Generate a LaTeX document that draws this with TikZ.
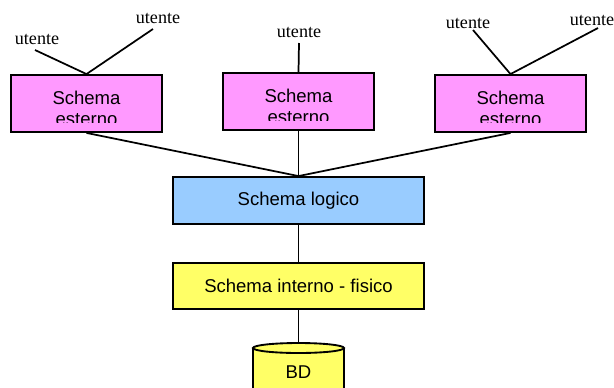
\documentclass[tikz,border=0pt]{standalone}
\usepackage{fontspec}
\setmainfont{Liberation Sans}
\newfontfamily\tnr{Liberation Serif}
\definecolor{pinkb}{HTML}{FF99FF}
\definecolor{blueb}{HTML}{99CCFF}
\definecolor{yellowb}{HTML}{FFFF66}
\begin{document}
\begin{tikzpicture}[x=0.75pt,y=-0.75pt,
  box/.style={draw=black, line width=1.4pt, inner sep=0pt},
  conn/.style={line width=1.3pt},
  usr/.style={font=\tnr\fontsize{13.6}{16}\selectfont, inner sep=0pt},
  lbl/.style={font=\fontsize{13.9}{16}\selectfont, inner sep=0pt}]
\useasboundingbox (0,0) rectangle (614,387);
\clip (0,0) rectangle (614,387);
% utente labels
\node[usr] (u1) at (37,39) {utente};
\node[usr] (u2) at (158,18) {utente};
\node[usr] (u3) at (299,32) {utente};
\node[usr] (u4) at (468,23) {utente};
\node[usr] (u5) at (592,20) {utente};
\coordinate (u1e) at (35,50);
\coordinate (u2e) at (153,29);
\coordinate (u3e) at (299,43);
\coordinate (u4e) at (473,30);
\coordinate (u5e) at (598,28);
% boxes
\node[box, fill=pinkb, minimum width=113.25pt, minimum height=42.75pt] (e1) at (86.5,103.5) {};
\node[box, fill=pinkb, minimum width=113.25pt, minimum height=42.75pt] (e2) at (298.5,101.5) {};
\node[box, fill=pinkb, minimum width=113.25pt, minimum height=42.75pt] (e3) at (510.5,103.5) {};
\node[box, fill=blueb, minimum width=188.25pt, minimum height=35.25pt, lbl] (log) at (298.5,200.5) {Schema logico};
\node[box, fill=yellowb, minimum width=188.25pt, minimum height=34.5pt, lbl] (int) at (298.5,286) {Schema interno - fisico};
% clipped box texts
\begin{scope}
\clip (11,75) rectangle (162,122);
\node[lbl, anchor=base] (t1a) at (86.5,104) {Schema};
\node[lbl, anchor=base] (t1b) at (86.5,125) {esterno};
\end{scope}
\begin{scope}
\clip (223,73) rectangle (374,120);
\node[lbl, anchor=base] (t2a) at (298.5,102) {Schema};
\node[lbl, anchor=base] (t2b) at (298.5,123) {esterno};
\end{scope}
\begin{scope}
\clip (435,75) rectangle (586,122);
\node[lbl, anchor=base] (t3a) at (510.5,104) {Schema};
\node[lbl, anchor=base] (t3b) at (510.5,125) {esterno};
\end{scope}
% cylinder
\coordinate (bdtop) at (298.5,343);
\fill[yellowb] (253,348) rectangle (344,400);
\draw[line width=1.4pt] (253,348) -- (253,400) (344,348) -- (344,400);
\draw[line width=1.4pt, fill=yellowb] (298.5,348) ellipse [x radius=45.5, y radius=5];
\node[lbl] (bd) at (298.5,372) {BD};
% connectors
\draw[conn] (u1e) -- (e1.north);
\draw[conn] (u2e) -- (e1.north);
\draw[conn] (u3e) -- (e2.north);
\draw[conn] (u4e) -- (e3.north);
\draw[conn] (u5e) -- (e3.north);
\draw[conn] (e1.south) -- (log.north);
\draw[conn] (e2.south) -- (log.north);
\draw[conn] (e3.south) -- (log.north);
\draw[conn] (log.south) -- (int.north);
\draw[conn] (int.south) -- (bdtop);
\end{tikzpicture}
\end{document}
